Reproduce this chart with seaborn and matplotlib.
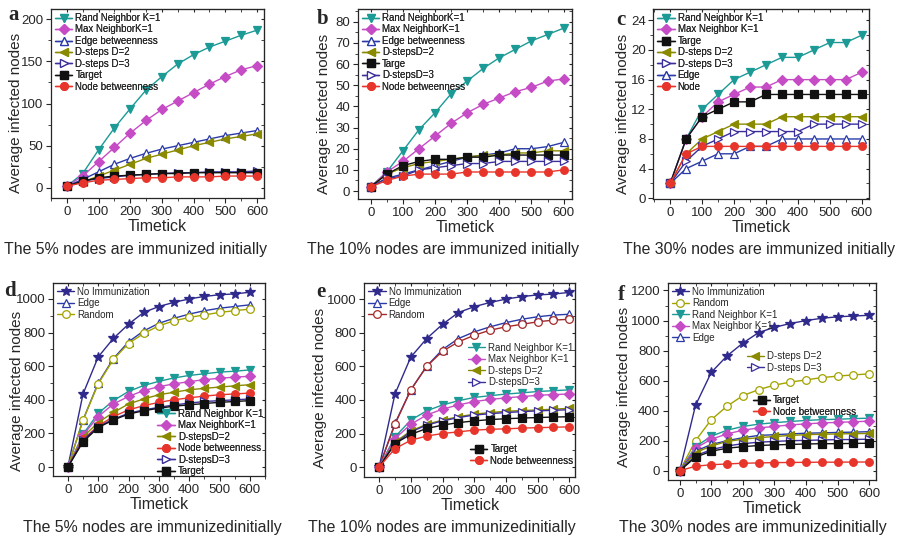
import matplotlib
matplotlib.use("Agg")
import matplotlib.pyplot as plt
import seaborn as sns
from matplotlib.ticker import MultipleLocator

sns.set_style("ticks")
plt.rcParams['font.family'] = ['Liberation Sans', 'DejaVu Sans']

timeticks = [0, 50, 100, 150, 200, 250, 300, 350, 400, 450, 500, 550, 600]

# panel a: 5% immunized
a_rand = [2, 17, 45, 71, 94, 116, 132, 147, 158, 167, 174, 181, 187]
a_max = [2, 14, 31, 48, 65, 80, 93, 103, 113, 123, 132, 140, 145]
a_edge = [2, 10, 19, 28, 35, 41, 46, 50, 54, 58, 62, 65, 68]
a_d2 = [2, 7, 14, 21, 28, 35, 40, 45, 50, 54, 58, 61, 64]
a_d3 = [2, 8, 11, 13, 15, 16, 17, 18, 18, 19, 19, 19, 20]
a_target = [2, 8, 12, 14, 15, 16, 17, 17, 18, 18, 18, 18, 18]
a_node = [2, 6, 9, 10, 11, 12, 12, 13, 13, 13, 14, 14, 14]

# panel b: 10% immunized
b_rand = [2, 9, 19, 29, 37, 46, 52, 58, 63, 67, 71, 74, 77]
b_max = [2, 9, 14, 20, 26, 32, 37, 41, 44, 47, 49, 52, 53]
b_edge = [2, 6, 8, 10, 12, 14, 16, 17, 18, 20, 20, 21, 23]
b_d2 = [2, 8, 11, 13, 14, 15, 16, 17, 17, 18, 18, 19, 19]
b_target = [2, 8, 12, 14, 15, 15, 16, 16, 17, 17, 17, 17, 17]
b_d3 = [2, 6, 7, 10, 11, 12, 13, 13, 14, 14, 14, 14, 14]
b_node = [2, 5, 7, 8, 8, 8, 9, 9, 9, 9, 9, 9, 10]

# panel c: 30% immunized
c_rand = [2, 8, 12, 14, 16, 17, 18, 19, 19, 20, 21, 21, 22]
c_max = [2, 8, 11, 13, 14, 15, 15, 16, 16, 16, 16, 16, 17]
c_target = [2, 8, 11, 12, 13, 13, 14, 14, 14, 14, 14, 14, 14]
c_d2 = [2, 6, 8, 9, 10, 10, 10, 11, 11, 11, 11, 11, 11]
c_d3 = [2, 5, 7, 8, 9, 9, 9, 9, 9, 10, 10, 10, 10]
c_edge = [2, 4, 5, 6, 6, 7, 7, 8, 8, 8, 8, 8, 8]
c_node = [2, 6, 7, 7, 7, 7, 7, 7, 7, 7, 7, 7, 7]

# panel d: 5% immunized, with no immunization / random
d_noimm = [0, 435, 655, 765, 850, 920, 955, 980, 1000, 1015, 1025, 1030, 1040]
d_edge = [0, 280, 500, 645, 745, 810, 855, 885, 910, 930, 945, 955, 965]
d_random = [0, 280, 495, 640, 735, 795, 840, 870, 890, 905, 920, 930, 940]
d_rand = [0, 195, 320, 395, 450, 485, 510, 530, 545, 555, 565, 570, 578]
d_max = [0, 190, 300, 375, 420, 455, 478, 495, 508, 520, 528, 535, 540]
d_d2 = [0, 180, 265, 325, 375, 405, 430, 445, 460, 468, 476, 483, 490]
d_node = [0, 165, 245, 300, 340, 365, 385, 400, 412, 422, 430, 435, 440]
d_d3 = [0, 160, 240, 285, 320, 340, 355, 370, 380, 390, 395, 400, 405]
d_target = [0, 150, 235, 280, 315, 335, 350, 362, 370, 378, 385, 390, 395]

# panel e: 10% immunized
e_noimm = [0, 435, 655, 765, 850, 920, 955, 980, 1000, 1015, 1025, 1030, 1040]
e_edge = [0, 260, 460, 600, 700, 765, 805, 835, 860, 880, 895, 905, 910]
e_random = [0, 255, 460, 600, 690, 745, 785, 815, 835, 850, 865, 875, 880]
e_rand = [0, 180, 280, 335, 370, 395, 415, 425, 435, 442, 450, 455, 460]
e_max = [0, 170, 255, 310, 345, 370, 390, 403, 412, 420, 427, 432, 435]
e_d2 = [0, 150, 215, 255, 280, 300, 315, 325, 332, 337, 340, 345, 350]
e_d3 = [0, 140, 210, 250, 275, 295, 310, 318, 325, 330, 335, 338, 342]
e_target = [0, 140, 195, 230, 250, 265, 275, 283, 288, 292, 295, 298, 300]
e_node = [0, 110, 160, 185, 200, 210, 220, 225, 228, 232, 235, 237, 240]

# panel f: 30% immunized
f_noimm = [0, 435, 655, 765, 850, 920, 955, 980, 1000, 1015, 1025, 1030, 1035]
f_random = [0, 200, 340, 430, 500, 540, 570, 590, 605, 620, 630, 638, 645]
f_rand = [0, 160, 230, 270, 295, 310, 320, 328, 335, 340, 343, 347, 350]
f_max = [0, 150, 210, 245, 270, 285, 295, 305, 312, 318, 322, 326, 330]
f_edge = [0, 130, 175, 200, 220, 235, 240, 245, 250, 252, 255, 257, 260]
f_d2 = [0, 120, 165, 195, 210, 220, 228, 235, 240, 243, 245, 247, 248]
f_d3 = [0, 100, 140, 165, 180, 190, 195, 200, 202, 205, 207, 208, 210]
f_target = [0, 90, 130, 150, 160, 168, 172, 175, 178, 180, 180, 182, 183]
f_node = [0, 30, 40, 45, 50, 52, 54, 55, 56, 57, 57, 58, 58]

styles = {
    'rand': dict(color='#1b9a96', marker='v', mfc='#1b9a96'),
    'max': dict(color='#c64cc6', marker='D', mfc='#c64cc6'),
    'edge': dict(color='#2a3aa8', marker='^', mfc='white'),
    'd2': dict(color='#8a8a00', marker='<', mfc='#8a8a00'),
    'd3': dict(color='#3b2f9c', marker='>', mfc='white'),
    'target': dict(color='#111111', marker='s', mfc='#111111'),
    'node': dict(color='#e8352b', marker='o', mfc='#e8352b'),
    'noimm': dict(color='#2f2a8c', marker='*', mfc='#2f2a8c'),
    'random_o': dict(color='#a3a300', marker='o', mfc='white'),
    'random_r': dict(color='#a52a2a', marker='o', mfc='white'),
}

panels = [
    dict(letter='a', lxy=(8, 20), pos=[0.0563, 0.632, 0.235, 0.351], ylim=(-12, 212), xlim=(-50, 622),
         ymaj=50, ymin=25, ylab=(-0.13, 0.45),
         caption='The 5% nodes are immunized initially', cx=0.150, cy=0.522,
         series=[('rand', 'Rand Neighbor K=1', a_rand), ('max', 'Max NeighborK=1', a_max),
                 ('edge', 'Edge betweenness', a_edge), ('d2', 'D-steps D=2', a_d2),
                 ('d3', 'D-steps D=3', a_d3), ('target', 'Target', a_target),
                 ('node', 'Node betweenness', a_node)],
         legends=[([0, 1, 2, 3, 4, 5, 6], 'upper left', (0.0, 1.0))]),
    dict(letter='b', lxy=(317, 24), pos=[0.395, 0.630, 0.236, 0.353], ylim=(-3.8, 86), xlim=(-40, 625),
         ymaj=10, ymin=5, ylab=(-0.125, 0.45),
         caption='The 10% nodes are immunized initially', cx=0.489, cy=0.522,
         series=[('rand', 'Rand NeighborK=1', b_rand), ('max', 'Max NeighborK=1', b_max),
                 ('edge', 'Edge betweenness', b_edge), ('d2', 'D-stepsD=2', b_d2),
                 ('target', 'Targe', b_target), ('d3', 'D-stepsD=3', b_d3),
                 ('node', 'Node betweenness', b_node)],
         legends=[([0, 1, 2, 3, 4, 5, 6], 'upper left', (0.0, 1.0))]),
    dict(letter='c', lxy=(616, 25), pos=[0.721, 0.630, 0.238, 0.353], ylim=(-0.1, 25.5), xlim=(-53, 622),
         ymaj=4, ymin=2, ylab=(-0.11, 0.45),
         caption='The 30% nodes are immunized initially', cx=0.838, cy=0.522,
         series=[('rand', 'Rand Neighbor K=1', c_rand), ('max', 'Max Neighbor K=1', c_max),
                 ('target', 'Targe', c_target), ('d2', 'D-steps D=2', c_d2),
                 ('d3', 'D-steps D=3', c_d3), ('edge', 'Edge', c_edge),
                 ('node', 'Node', c_node)],
         legends=[([0, 1, 2, 3, 4, 5, 6], 'upper left', (0.0, 1.0))]),
    dict(letter='d', lxy=(4, 296), pos=[0.0585, 0.115, 0.234, 0.359], ylim=(-54, 1095), xlim=(-49, 650),
         ymaj=200, ymin=100, ylab=(-0.135, 0.44),
         caption='The 5% nodes are immunizedinitially', cx=0.168, cy=0.006,
         series=[('noimm', 'No Immunization', d_noimm), ('edge', 'Edge', d_edge),
                 ('random_o', 'Random', d_random), ('rand', 'Rand Neighbor K=1', d_rand),
                 ('max', 'Max NeighborK=1', d_max), ('d2', 'D-stepsD=2', d_d2),
                 ('node', 'Node betweenness', d_node), ('d3', 'D-stepsD=3', d_d3),
                 ('target', 'Target', d_target)],
         legends=[([0, 1, 2], 'upper left', (0.0, 1.0)),
                  ([3, 4, 5, 6, 7, 8], 'lower right', (1.01, -0.02))]),
    dict(letter='e', lxy=(316, 297), pos=[0.402, 0.113, 0.233, 0.361], ylim=(-60, 1096), xlim=(-47, 619),
         ymaj=200, ymin=100, ylab=(-0.178, 0.46),
         caption='The 10% nodes are immunizedinitially', cx=0.488, cy=0.006,
         series=[('noimm', 'No Immunization', e_noimm), ('edge', 'Edge', e_edge),
                 ('random_r', 'Random', e_random), ('rand', 'Rand Neighbor K=1', e_rand),
                 ('max', 'Max Neighbor K=1', e_max), ('d2', 'D-steps D=2', e_d2),
                 ('d3', 'D-stepsD=3', e_d3), ('target', 'Target', e_target),
                 ('node', 'Node betweenness', e_node)],
         legends=[([0, 1, 2], 'upper left', (0.0, 1.0)),
                  ([3, 4, 5, 6], 'upper right', (1.01, 0.713)),
                  ([7, 8], 'lower right', (1.01, 0.04))]),
    dict(letter='f', lxy=(618, 300), pos=[0.737, 0.108, 0.230, 0.366], ylim=(-61, 1250), xlim=(-38, 622),
         ymaj=200, ymin=100, ylab=(-0.176, 0.47),
         caption='The 30% nodes are immunizedinitially', cx=0.831, cy=0.006,
         series=[('noimm', 'No Immunization', f_noimm), ('random_o', 'Random', f_random),
                 ('rand', 'Rand Neighbor K=1', f_rand), ('max', 'Max Neighbor K=1', f_max),
                 ('edge', 'Edge', f_edge), ('d2', 'D-steps D=2', f_d2),
                 ('d3', 'D-steps D=3', f_d3), ('target', 'Target', f_target),
                 ('node', 'Node betweenness', f_node)],
         legends=[([0, 1, 2, 3, 4], 'upper left', (0.0, 1.0)),
                  ([5, 6], 'upper left', (0.36, 0.674)),
                  ([7, 8], 'upper left', (0.39, 0.45))]),
]

W, H = 906, 538
fig = plt.figure(figsize=(W / 100, H / 100), dpi=100)

for p in panels:
    ax = fig.add_axes(p['pos'])
    for key, label, vals in p['series']:
        st = styles[key]
        sns.lineplot(x=timeticks, y=vals, ax=ax, color=st['color'], marker=st['marker'],
                     markerfacecolor=st['mfc'], markeredgecolor=st['color'],
                     markersize=5.5 if st['marker'] != '*' else 7.5, markeredgewidth=0.9,
                     linewidth=1.0, label=label)
    ax.set_xlim(*p['xlim'])
    ax.set_ylim(*p['ylim'])
    ax.xaxis.set_major_locator(MultipleLocator(100))
    ax.xaxis.set_minor_locator(MultipleLocator(50))
    ax.yaxis.set_major_locator(MultipleLocator(p['ymaj']))
    ax.yaxis.set_minor_locator(MultipleLocator(p['ymin']))
    ax.tick_params(which='major', direction='out', length=3.5, width=0.8, labelsize=9.5, pad=2)
    ax.tick_params(which='minor', direction='out', length=2, width=0.6)
    for s in ax.spines.values():
        s.set_linewidth(0.9)
    top = ax.secondary_xaxis('top')
    top.xaxis.set_major_locator(MultipleLocator(100))
    top.xaxis.set_minor_locator(MultipleLocator(50))
    top.tick_params(which='both', direction='in', labeltop=False, length=2.5)
    right = ax.secondary_yaxis('right')
    right.yaxis.set_major_locator(MultipleLocator(p['ymaj']))
    right.yaxis.set_minor_locator(MultipleLocator(p['ymin']))
    right.tick_params(which='both', direction='in', labelright=False, length=2.5)
    ax.set_xlabel('Timetick', fontsize=11.5, labelpad=1)
    ax.set_ylabel('Average infected nodes', fontsize=11)
    ax.yaxis.set_label_coords(*p['ylab'])

    handles, labels = ax.get_legend_handles_labels()
    if ax.get_legend() is not None:
        ax.get_legend().remove()
    for idx, loc, anchor in p['legends']:
        leg = ax.legend([handles[i] for i in idx], [labels[i] for i in idx], loc=loc,
                        bbox_to_anchor=anchor, frameon=False, fontsize=7.0,
                        handlelength=1.8, handletextpad=0.3, labelspacing=0.15,
                        borderaxespad=0.2, borderpad=0.2)
        ax.add_artist(leg)

    lx, ly = p['lxy']
    fig.text(lx / W, 1 - ly / H, p['letter'], fontsize=15, fontweight='bold',
             family='Liberation Serif', ha='left', va='baseline')
    fig.text(p['cx'], p['cy'], p['caption'], fontsize=11.4, ha='center', va='bottom')

fig.savefig('out.png', dpi=100)
